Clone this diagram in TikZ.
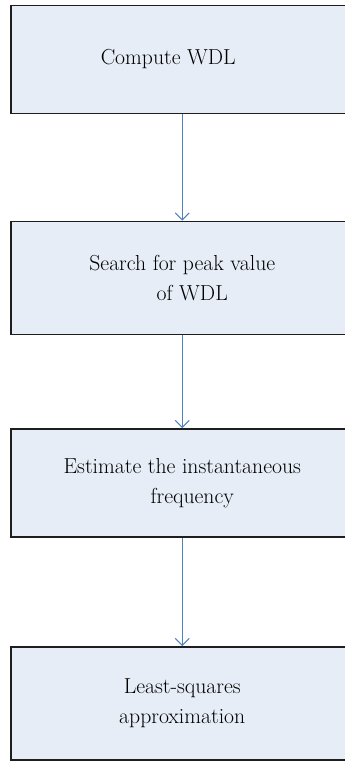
\documentclass[tikz,border=0pt]{standalone}
\usetikzlibrary{positioning,arrows.meta}
\definecolor{boxFill}{RGB}{230,237,246}
\definecolor{boxLine}{RGB}{30,30,30}
\definecolor{flowBlue}{RGB}{79,129,189}
\tikzset{
	stage/.style={
		draw=boxLine,
		fill=boxFill,
		line width=1.5pt,
		minimum width=343pt,
		align=center,
		inner sep=0pt,
		font=\fontsize{21.7}{30}\selectfont,
	},
	flow/.style={
		-{Straight Barb[length=7pt,width=14pt]},
		line width=1pt,
		draw=flowBlue,
	}
}
\begin{document}
\begin{tikzpicture}[x=1pt,y=-1pt]
	\useasboundingbox (0,0) rectangle (345,761);
	% --- Stages ---
	\node[stage, minimum height=108pt, anchor=north west] (wdl) at (10,4.5)
	{Compute WDL\hspace*{28pt}};
	\node[stage, minimum height=113pt] (peak) [below=106.5pt of wdl]
	{Search for peak value\\\hspace*{20pt}of WDL};
	\node[stage, minimum height=108pt] (freq) [below=93pt of peak]
	{Estimate the instantaneous\\\hspace*{20pt}frequency};
	\node[stage, minimum height=113pt] (lsq) [below=108.5pt of freq]
	{Least-squares\\approximation};
	
	% --- Flows ---
	\draw[flow] (wdl) -- (peak);
	\draw[flow] (peak) -- (freq);
	\draw[flow] (freq) -- (lsq);
\end{tikzpicture}
\end{document}
